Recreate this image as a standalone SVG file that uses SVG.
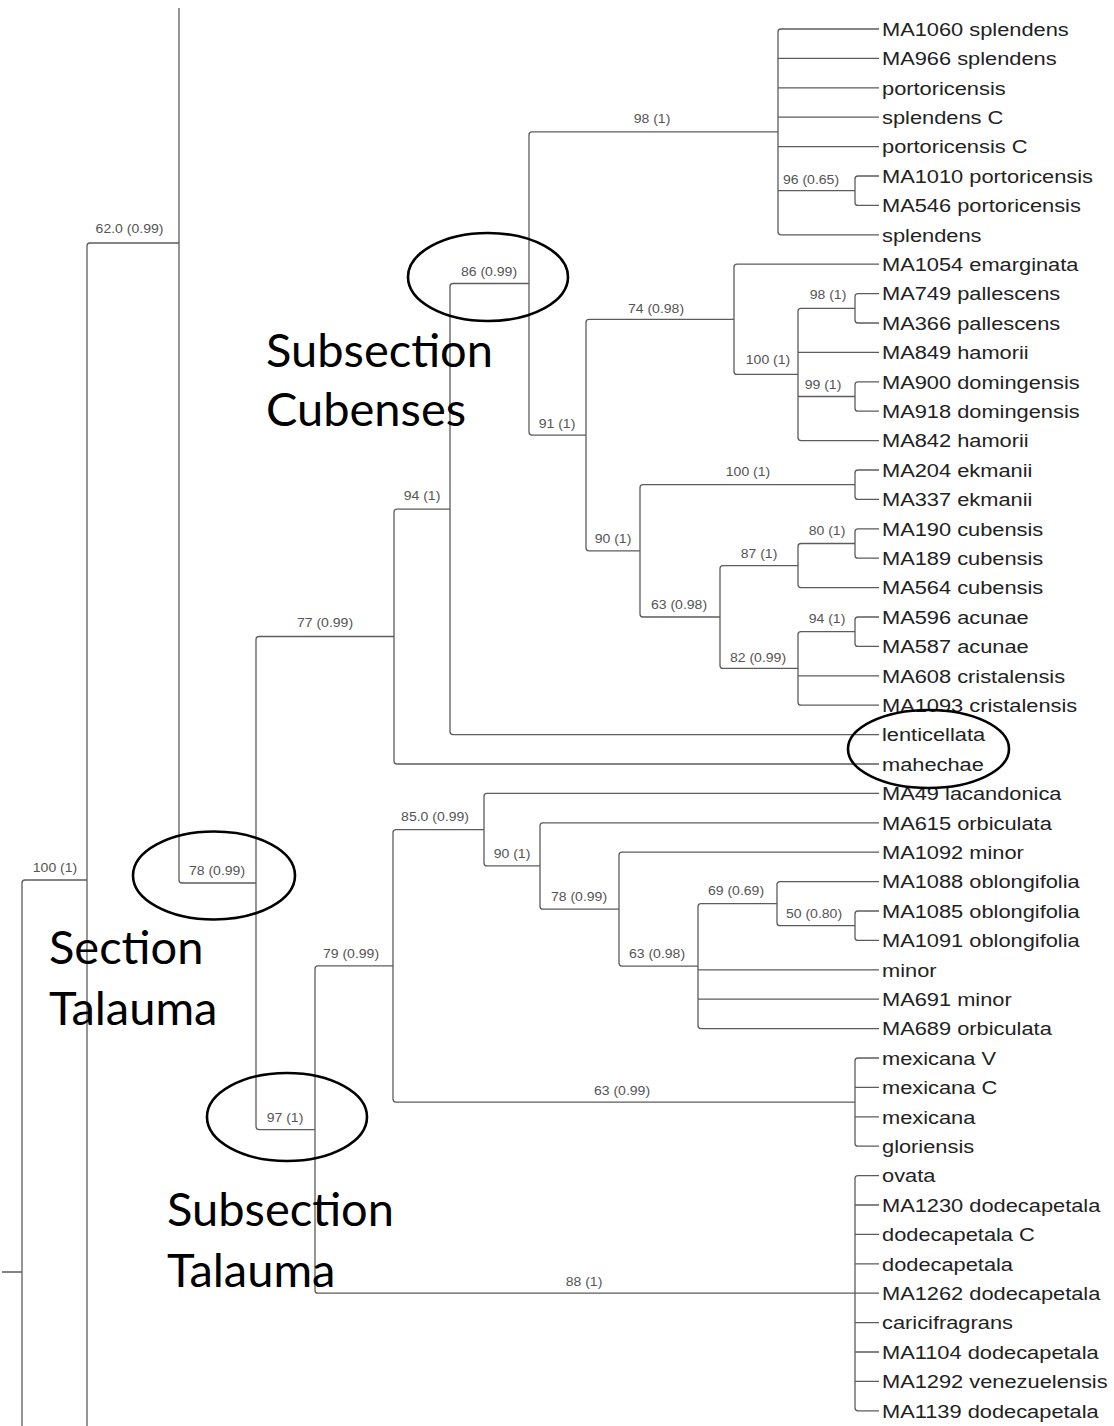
<svg xmlns="http://www.w3.org/2000/svg" width="1114" height="1426" viewBox="0 0 1114 1426">
<style>
.br{fill:none;stroke:#5c5c5c;stroke-width:1.3}
.tip{font-family:"Liberation Sans",Arial,sans-serif;font-size:18.5px;fill:#222}
.sup{font-family:"Liberation Sans",Arial,sans-serif;font-size:13px;fill:#555;text-anchor:middle}
.big{font-family:Lato,"Open Sans",sans-serif;font-size:47px;fill:#000}
.ring{fill:none;stroke:#000;stroke-width:2.6}
</style>
<rect width="1114" height="1426" fill="#fff"/>
<g id="connectors" class="br">
<path d="M879 29 H781 Q778 29 778 32 V231.8 Q778 234.8 781 234.8 H879 M778 58.4 H879 M778 87.8 H879 M778 117.2 H879 M778 146.6 H879 M778 190.7 H855"/>
<path d="M879 176 H858 Q855 176 855 179 V202.4 Q855 205.4 858 205.4 H879"/>
<path d="M879 293.6 H858 Q855 293.6 855 296.6 V320 Q855 323 858 323 H879"/>
<path d="M879 381.8 H858 Q855 381.8 855 384.8 V408.2 Q855 411.2 858 411.2 H879"/>
<path d="M855 308.3 H801 Q798 308.3 798 311.3 V437.6 Q798 440.6 801 440.6 H879 M798 352.4 H879 M798 396.5 H855"/>
<path d="M879 264.2 H737 Q734 264.2 734 267.2 V371.45 Q734 374.45 737 374.45 H798"/>
<path d="M879 470 H858 Q855 470 855 473 V496.4 Q855 499.4 858 499.4 H879"/>
<path d="M879 528.8 H858 Q855 528.8 855 531.8 V555.2 Q855 558.2 858 558.2 H879"/>
<path d="M855 543.5 H801 Q798 543.5 798 546.5 V584.6 Q798 587.6 801 587.6 H879"/>
<path d="M879 617 H858 Q855 617 855 620 V643.4 Q855 646.4 858 646.4 H879"/>
<path d="M855 631.7 H801 Q798 631.7 798 634.7 V702.2 Q798 705.2 801 705.2 H879 M798 675.8 H879"/>
<path d="M798 565.55 H723 Q720 565.55 720 568.55 V665.45 Q720 668.45 723 668.45 H798"/>
<path d="M855 484.7 H643 Q640 484.7 640 487.7 V614 Q640 617 643 617 H720"/>
<path d="M734 319.3 H589 Q586 319.3 586 322.3 V547.85 Q586 550.85 589 550.85 H640"/>
<path d="M778 131.9 H532 Q529 131.9 529 134.9 V432.1 Q529 435.1 532 435.1 H586"/>
<path d="M529 283.5 H453 Q450 283.5 450 286.5 V731.6 Q450 734.6 453 734.6 H879"/>
<path d="M450 509.05 H397 Q394 509.05 394 512.05 V761 Q394 764 397 764 H879"/>
<path d="M879 911 H858 Q855 911 855 914 V937.4 Q855 940.4 858 940.4 H879"/>
<path d="M879 881.6 H780 Q777 881.6 777 884.6 V922.7 Q777 925.7 780 925.7 H855"/>
<path d="M777 903.65 H701 Q698 903.65 698 906.65 V1025.6 Q698 1028.6 701 1028.6 H879 M698 969.8 H879 M698 999.2 H879"/>
<path d="M879 852.2 H622 Q619 852.2 619 855.2 V963.1 Q619 966.1 622 966.1 H698"/>
<path d="M879 822.8 H543 Q540 822.8 540 825.8 V906.15 Q540 909.15 543 909.15 H619"/>
<path d="M879 793.4 H487 Q484 793.4 484 796.4 V862.97 Q484 865.97 487 865.97 H540"/>
<path d="M879 1058 H858 Q855 1058 855 1061 V1143.2 Q855 1146.2 858 1146.2 H879 M855 1087.4 H879 M855 1116.8 H879"/>
<path d="M484 829.7 H396 Q393 829.7 393 832.7 V1099.1 Q393 1102.1 396 1102.1 H855"/>
<path d="M879 1175.6 H858 Q855 1175.6 855 1178.6 V1407.8 Q855 1410.8 858 1410.8 H879 M855 1205 H879 M855 1234.4 H879 M855 1263.8 H879 M855 1293.2 H879 M855 1322.6 H879 M855 1352 H879 M855 1381.4 H879"/>
<path d="M393 965.9 H318 Q315 965.9 315 968.9 V1290.2 Q315 1293.2 318 1293.2 H855"/>
<path d="M394 636.5 H259 Q256 636.5 256 639.5 V1126.55 Q256 1129.55 259 1129.55 H315"/>
<path d="M179 8 V880 Q179 883 182 883 H256"/>
<path d="M179 243 H90 Q87 243 87 246 V1426"/>
<path d="M87 880 H25 Q22 880 22 883 V1426 M2 1272 H22"/>
</g>
<g id="support-labels" class="sup">
<g id="n-62"><text transform="translate(129.5 232.5) scale(1.08 1)">62.0 (0.99)</text></g>
<g id="n-86"><text transform="translate(489 275.5) scale(1.08 1)">86 (0.99)</text></g>
<g id="n-98a"><text transform="translate(652 122.8) scale(1.08 1)">98 (1)</text></g>
<g id="n-96"><text transform="translate(811 183.5) scale(1.08 1)">96 (0.65)</text></g>
<g id="n-74"><text transform="translate(656 312.5) scale(1.08 1)">74 (0.98)</text></g>
<g id="n-98b"><text transform="translate(828 298.5) scale(1.08 1)">98 (1)</text></g>
<g id="n-100a"><text transform="translate(768 363.5) scale(1.08 1)">100 (1)</text></g>
<g id="n-99"><text transform="translate(823 388.5) scale(1.08 1)">99 (1)</text></g>
<g id="n-91"><text transform="translate(557 427.5) scale(1.08 1)">91 (1)</text></g>
<g id="n-100b"><text transform="translate(748 475.5) scale(1.08 1)">100 (1)</text></g>
<g id="n-94a"><text transform="translate(422 499.5) scale(1.08 1)">94 (1)</text></g>
<g id="n-90a"><text transform="translate(613 542.5) scale(1.08 1)">90 (1)</text></g>
<g id="n-87"><text transform="translate(759 557.5) scale(1.08 1)">87 (1)</text></g>
<g id="n-80"><text transform="translate(827 534.5) scale(1.08 1)">80 (1)</text></g>
<g id="n-63a"><text transform="translate(679 608.5) scale(1.08 1)">63 (0.98)</text></g>
<g id="n-94b"><text transform="translate(827 622.5) scale(1.08 1)">94 (1)</text></g>
<g id="n-82"><text transform="translate(758 661.5) scale(1.08 1)">82 (0.99)</text></g>
<g id="n-77"><text transform="translate(325 626.5) scale(1.08 1)">77 (0.99)</text></g>
<g id="n-78a"><text transform="translate(217 874.5) scale(1.08 1)">78 (0.99)</text></g>
<g id="n-100c"><text transform="translate(55 871.5) scale(1.08 1)">100 (1)</text></g>
<g id="n-85"><text transform="translate(435 820.5) scale(1.08 1)">85.0 (0.99)</text></g>
<g id="n-90b"><text transform="translate(512 857.5) scale(1.08 1)">90 (1)</text></g>
<g id="n-78b"><text transform="translate(579 900.5) scale(1.08 1)">78 (0.99)</text></g>
<g id="n-69"><text transform="translate(736 894.5) scale(1.08 1)">69 (0.69)</text></g>
<g id="n-50"><text transform="translate(814 917.5) scale(1.08 1)">50 (0.80)</text></g>
<g id="n-63b"><text transform="translate(657 957.5) scale(1.08 1)">63 (0.98)</text></g>
<g id="n-79"><text transform="translate(351 957.5) scale(1.08 1)">79 (0.99)</text></g>
<g id="n-63c"><text transform="translate(622 1094.5) scale(1.08 1)">63 (0.99)</text></g>
<g id="n-97"><text transform="translate(285 1121.5) scale(1.08 1)">97 (1)</text></g>
<g id="n-88"><text transform="translate(584 1285.5) scale(1.08 1)">88 (1)</text></g>
</g>
<g id="tips" class="tip">
<g id="t00"><text transform="translate(882 35.7) scale(1.18 1)">MA1060 splendens</text></g>
<g id="t01"><text transform="translate(882 65.1) scale(1.18 1)">MA966 splendens</text></g>
<g id="t02"><text transform="translate(882 94.5) scale(1.18 1)">portoricensis</text></g>
<g id="t03"><text transform="translate(882 123.9) scale(1.18 1)">splendens C</text></g>
<g id="t04"><text transform="translate(882 153.3) scale(1.18 1)">portoricensis C</text></g>
<g id="t05"><text transform="translate(882 182.7) scale(1.18 1)">MA1010 portoricensis</text></g>
<g id="t06"><text transform="translate(882 212.1) scale(1.18 1)">MA546 portoricensis</text></g>
<g id="t07"><text transform="translate(882 241.5) scale(1.18 1)">splendens</text></g>
<g id="t08"><text transform="translate(882 270.9) scale(1.18 1)">MA1054 emarginata</text></g>
<g id="t09"><text transform="translate(882 300.3) scale(1.18 1)">MA749 pallescens</text></g>
<g id="t10"><text transform="translate(882 329.7) scale(1.18 1)">MA366 pallescens</text></g>
<g id="t11"><text transform="translate(882 359.1) scale(1.18 1)">MA849 hamorii</text></g>
<g id="t12"><text transform="translate(882 388.5) scale(1.18 1)">MA900 domingensis</text></g>
<g id="t13"><text transform="translate(882 417.9) scale(1.18 1)">MA918 domingensis</text></g>
<g id="t14"><text transform="translate(882 447.3) scale(1.18 1)">MA842 hamorii</text></g>
<g id="t15"><text transform="translate(882 476.7) scale(1.18 1)">MA204 ekmanii</text></g>
<g id="t16"><text transform="translate(882 506.1) scale(1.18 1)">MA337 ekmanii</text></g>
<g id="t17"><text transform="translate(882 535.5) scale(1.18 1)">MA190 cubensis</text></g>
<g id="t18"><text transform="translate(882 564.9) scale(1.18 1)">MA189 cubensis</text></g>
<g id="t19"><text transform="translate(882 594.3) scale(1.18 1)">MA564 cubensis</text></g>
<g id="t20"><text transform="translate(882 623.7) scale(1.18 1)">MA596 acunae</text></g>
<g id="t21"><text transform="translate(882 653.1) scale(1.18 1)">MA587 acunae</text></g>
<g id="t22"><text transform="translate(882 682.5) scale(1.18 1)">MA608 cristalensis</text></g>
<g id="t23"><text transform="translate(882 711.9) scale(1.18 1)">MA1093 cristalensis</text></g>
<g id="t24"><text transform="translate(882 741.3) scale(1.18 1)">lenticellata</text></g>
<g id="t25"><text transform="translate(882 770.7) scale(1.18 1)">mahechae</text></g>
<g id="t26"><text transform="translate(882 800.1) scale(1.18 1)">MA49 lacandonica</text></g>
<g id="t27"><text transform="translate(882 829.5) scale(1.18 1)">MA615 orbiculata</text></g>
<g id="t28"><text transform="translate(882 858.9) scale(1.18 1)">MA1092 minor</text></g>
<g id="t29"><text transform="translate(882 888.3) scale(1.18 1)">MA1088 oblongifolia</text></g>
<g id="t30"><text transform="translate(882 917.7) scale(1.18 1)">MA1085 oblongifolia</text></g>
<g id="t31"><text transform="translate(882 947.1) scale(1.18 1)">MA1091 oblongifolia</text></g>
<g id="t32"><text transform="translate(882 976.5) scale(1.18 1)">minor</text></g>
<g id="t33"><text transform="translate(882 1005.9) scale(1.18 1)">MA691 minor</text></g>
<g id="t34"><text transform="translate(882 1035.3) scale(1.18 1)">MA689 orbiculata</text></g>
<g id="t35"><text transform="translate(882 1064.7) scale(1.18 1)">mexicana V</text></g>
<g id="t36"><text transform="translate(882 1094.1) scale(1.18 1)">mexicana C</text></g>
<g id="t37"><text transform="translate(882 1123.5) scale(1.18 1)">mexicana</text></g>
<g id="t38"><text transform="translate(882 1152.9) scale(1.18 1)">gloriensis</text></g>
<g id="t39"><text transform="translate(882 1182.3) scale(1.18 1)">ovata</text></g>
<g id="t40"><text transform="translate(882 1211.7) scale(1.18 1)">MA1230 dodecapetala</text></g>
<g id="t41"><text transform="translate(882 1241.1) scale(1.18 1)">dodecapetala C</text></g>
<g id="t42"><text transform="translate(882 1270.5) scale(1.18 1)">dodecapetala</text></g>
<g id="t43"><text transform="translate(882 1299.9) scale(1.18 1)">MA1262 dodecapetala</text></g>
<g id="t44"><text transform="translate(882 1329.3) scale(1.18 1)">caricifragrans</text></g>
<g id="t45"><text transform="translate(882 1358.7) scale(1.18 1)">MA1104 dodecapetala</text></g>
<g id="t46"><text transform="translate(882 1388.1) scale(1.18 1)">MA1292 venezuelensis</text></g>
<g id="t47"><text transform="translate(882 1417.5) scale(1.18 1)">MA1139 dodecapetala</text></g>
</g>
<g id="annotations">
<ellipse class="ring" cx="488" cy="277" rx="80" ry="44"/>
<ellipse class="ring" cx="928.5" cy="749" rx="80.5" ry="39"/>
<ellipse class="ring" cx="214" cy="875.5" rx="81" ry="44"/>
<ellipse class="ring" cx="287" cy="1117" rx="80" ry="44"/>
<g id="label-cubenses" class="big"><text x="266" y="367">Subsection</text><text x="266" y="426">Cubenses</text></g>
<g id="label-section" class="big"><text x="49" y="964">Section</text><text x="49" y="1025">Talauma</text></g>
<g id="label-subtalauma" class="big"><text x="167" y="1226">Subsection</text><text x="167" y="1287">Talauma</text></g>
</g>
</svg>
